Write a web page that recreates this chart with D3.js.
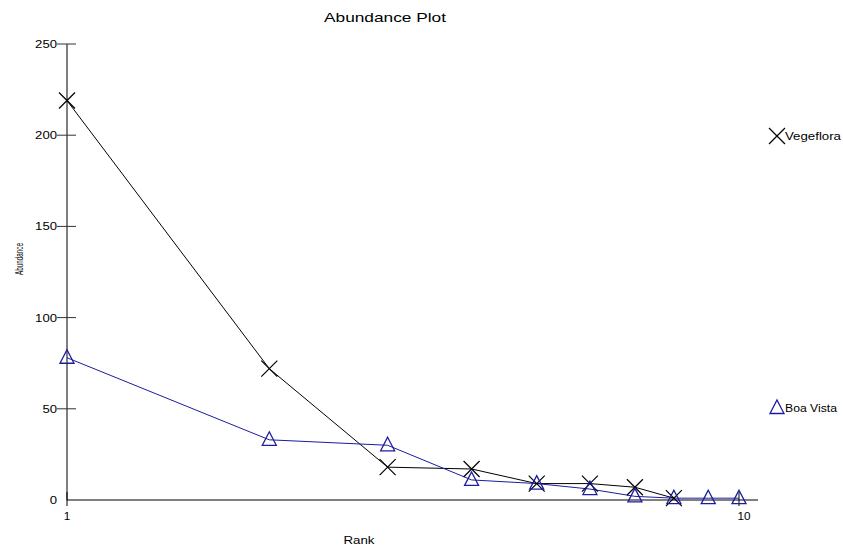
<!DOCTYPE html>
<meta charset="utf-8">
<style>
    body { margin: 0; background: #fff; }
    text { font-family: "Liberation Sans", Arial, sans-serif; fill: #000; }
</style>
<svg width="843" height="548"></svg>
<script src="https://cdnjs.cloudflare.com/ajax/libs/d3/7.8.5/d3.min.js"></script>
<script>
    // values
    var vegefloraRanks = [1, 2, 3, 4, 5, 6, 7, 8];
    var vegefloraValues = [219, 72, 18, 17, 9, 9, 7, 1];
    var boaVistaRanks = [1, 2, 3, 4, 5, 6, 7, 8, 9, 10];
    var boaVistaValues = [78, 33, 30, 11, 9, 6, 2, 1, 1, 1];
    var yTicks = [0, 50, 100, 150, 200, 250];
    var xTicks = [1, 10];

    var svg = d3.select("svg");
    var x = d3.scaleLog().domain([1, 10]).range([67, 739]);
    var y = d3.scaleLinear().domain([0, 250]).range([500, 44]);

    var series = [
        { name: "Vegeflora", ranks: vegefloraRanks, values: vegefloraValues, color: "#000", marker: "x", legendY: 136, w: 56 },
        { name: "Boa Vista", ranks: boaVistaRanks, values: boaVistaValues, color: "#1c1ca0", marker: "tri", legendY: 408, w: 52 }
    ];

    // the original's text is drawn wide, so stretch it
    function wide(sel, len) {
        return sel.attr("textLength", len).attr("lengthAdjust", "spacingAndGlyphs");
    }

    // title
    wide(svg.append("text").attr("x", 385).attr("y", 22).attr("text-anchor", "middle")
        .style("font-size", "13px").text("Abundance Plot"), 122);

    // y axis
    var yAxis = svg.append("g");
    yAxis.append("line").attr("x1", 67).attr("x2", 67).attr("y1", y(250)).attr("y2", y(0))
        .attr("stroke", "#555").attr("stroke-width", 1.5);
    yAxis.selectAll(".tk").data(yTicks.filter(function (d) { return d > 0; })).enter().append("line")
        .attr("x1", 57).attr("x2", 76).attr("y1", function (d) { return y(d); }).attr("y2", function (d) { return y(d); })
        .attr("stroke", "#333").attr("stroke-width", 1);
    yAxis.selectAll("text").data(yTicks).enter().append("text")
        .attr("x", 57)
        .attr("y", function (d) { return y(d) + 4; })
        .attr("text-anchor", "end")
        .style("font-size", "10px")
        .attr("textLength", function (d) { return String(d).length * 7.3; })
        .attr("lengthAdjust", "spacingAndGlyphs")
        .text(function (d) { return d; });

    wide(svg.append("text").attr("transform", "translate(23,259) rotate(-90)")
        .attr("text-anchor", "middle").style("font-size", "10px")
        .text("Abundance"), 32);

    // x axis
    svg.append("line").attr("x1", 67).attr("x2", 758).attr("y1", y(0)).attr("y2", y(0))
        .attr("stroke", "#000").attr("stroke-width", 1);
    svg.selectAll(".xt").data(xTicks).enter().append("line")
        .attr("x1", function (d) { return x(d); }).attr("x2", function (d) { return x(d); })
        .attr("y1", y(0) - 8).attr("y2", y(0) + 6)
        .attr("stroke", "#000");
    svg.selectAll(".xl").data(xTicks).enter().append("text")
        .attr("x", function (d) { return x(d) + (d === 10 ? 5 : 0); }).attr("y", y(0) + 20)
        .attr("text-anchor", "middle").style("font-size", "10px")
        .attr("textLength", function (d) { return String(d).length * 6.5; })
        .attr("lengthAdjust", "spacingAndGlyphs")
        .text(function (d) { return d; });
    wide(svg.append("text").attr("x", 359).attr("y", 544).attr("text-anchor", "middle")
        .style("font-size", "10px").text("Rank"), 31);

    function drawMarker(g, type, cx, cy, color) {
        if (type === "x") {
            g.append("path").attr("d", "M" + (cx - 8) + "," + (cy - 8) + "L" + (cx + 8) + "," + (cy + 8) +
                "M" + (cx - 8) + "," + (cy + 8) + "L" + (cx + 8) + "," + (cy - 8))
                .attr("stroke", color).attr("stroke-width", 1.2).attr("fill", "none");
        } else {
            g.append("path").attr("d", "M" + cx + "," + (cy - 8) + "L" + (cx + 7) + "," + (cy + 5.5) +
                "L" + (cx - 7) + "," + (cy + 5.5) + "Z")
                .attr("stroke", color).attr("stroke-width", 1.3).attr("fill", "none");
        }
    }

    var line = d3.line().x(function (d) { return x(d[0]); }).y(function (d) { return y(d[1]); });

    series.forEach(function (s) {
        var pts = d3.zip(s.ranks, s.values);
        svg.append("path").datum(pts).attr("d", line)
            .attr("fill", "none").attr("stroke", s.color).attr("stroke-width", 1);
    });
    series.forEach(function (s) {
        var g = svg.append("g");
        d3.zip(s.ranks, s.values).forEach(function (p) {
            drawMarker(g, s.marker, x(p[0]), y(p[1]), s.color);
        });
        drawMarker(g, s.marker, 777, s.legendY, s.color);
        wide(svg.append("text").attr("x", 785).attr("y", s.legendY + 4)
            .style("font-size", "10px").text(s.name), s.w);
    });
</script>
